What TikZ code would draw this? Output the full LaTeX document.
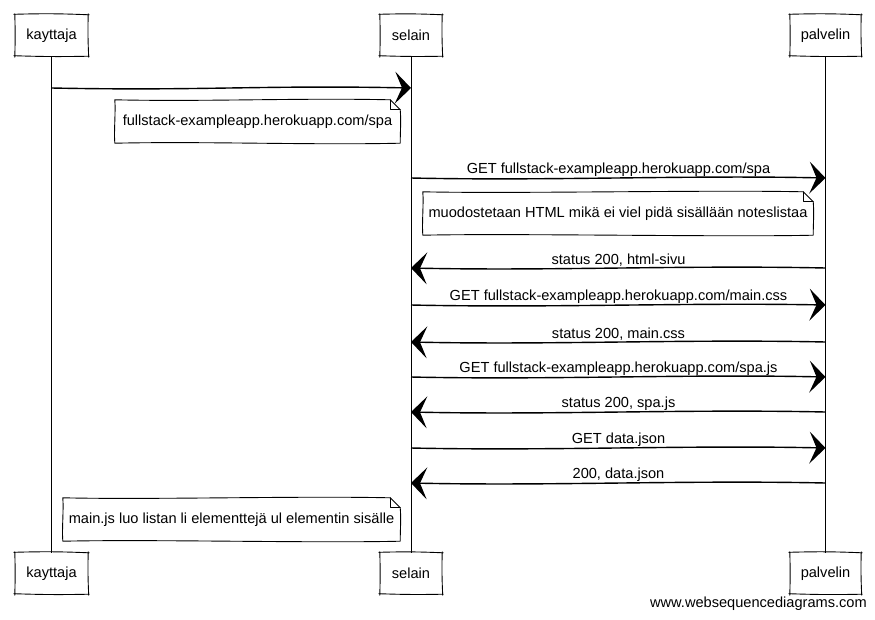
\documentclass[tikz,border=0pt]{standalone}
\usepackage{fontspec}
\setmainfont{Liberation Sans}
\usetikzlibrary{arrows.meta}

% sketchy outline around a participant box
\newcommand\handbox[1]{%
  \draw[frame] ([xshift=-1pt,yshift=0.5pt]#1.north west) to[bend left=2] ([xshift=1pt]#1.north east)
    ([yshift=1pt]#1.north east) to[bend right=2] ([xshift=0.5pt,yshift=-1pt]#1.south east)
    ([xshift=1pt]#1.south east) to[bend left=1.5] ([xshift=-1pt,yshift=0.5pt]#1.south west)
    ([yshift=-1pt]#1.south west) to[bend right=1.5] ([yshift=1pt]#1.north west);}

% note with a folded top-right corner
\newcommand\dognote[1]{%
  \draw[frame, fill=white] (#1.north west)
      .. controls +(90,2) and +(-90,-2) .. ([xshift=-10pt]#1.north east)
      -- ([yshift=-10pt]#1.north east)
      .. controls +(1,10) and +(0,-10) .. (#1.south east)
      .. controls +(-90,2) and +(90,-2) .. (#1.south west)
      .. controls +(-1,-12) and +(1,12) .. cycle;
  \draw[frame] ([xshift=-10pt]#1.north east) -- ([xshift=-10pt,yshift=-10pt]#1.north east)
      -- ([yshift=-10pt]#1.north east);}

\begin{document}
\begin{tikzpicture}[x=1pt,y=-1pt,
  every node/.style={font=\fontsize{14.6}{17}\selectfont},
  actor/.style={minimum height=41pt, inner sep=0pt},
  frame/.style={line width=0.9pt, line cap=round, line join=round},
  life/.style={line width=0.9pt},
  msg/.style={line width=1.4pt, -{Stealth[length=16pt,width=32pt,inset=7pt]}},
  lbl/.style={anchor=south, inner sep=1.5pt},
  notebox/.style={minimum height=43pt, inner sep=0pt},
]
\useasboundingbox (0,0) rectangle (875,619);

% participants, top and bottom
\node[actor, minimum width=73pt] (kt) at (51.5,35.5) {kayttaja};
\node[actor, minimum width=62pt] (st) at (411,35.5) {selain};
\node[actor, minimum width=71pt] (pt) at (825.5,35.5) {palvelin};
\node[actor, minimum width=73pt] (kb) at (51.5,573.5) {kayttaja};
\node[actor, minimum width=62pt] (sb) at (411,573.5) {selain};
\node[actor, minimum width=71pt] (pb) at (825.5,573.5) {palvelin};
\foreach \n in {kt,st,pt,kb,sb,pb} {\handbox{\n}}

% lifelines
\draw[life] (kt.south) -- (kb.north);
\draw[life] (st.south) -- (sb.north);
\draw[life] (pt.south) -- (pb.north);

% notes
\node[notebox, minimum width=285pt] (n1) at (257.5,121.5) {fullstack-exampleapp.herokuapp.com/spa};
\node[notebox, minimum width=390pt] (n2) at (618,213.5) {muodostetaan HTML mikä ei viel pidä sisällään noteslistaa};
\node[notebox, minimum width=337pt] (n3) at (231.5,519.5) {main.js luo listan li elementtejä ul elementin sisälle};
\dognote{n1}
\dognote{n2}
\dognote{n3}
\node[notebox] at (n1) {fullstack-exampleapp.herokuapp.com/spa};
\node[notebox] at (n2) {muodostetaan HTML mikä ei viel pidä sisällään noteslistaa};
\node[notebox] at (n3) {main.js luo listan li elementtejä ul elementin sisälle};

% messages
\coordinate (r1) at (0,88);
\draw[msg] (kt |- r1) .. controls +(150,3) and +(-150,-3) .. (st |- r1);

\node[lbl] (l2) at (618.5,178) {GET fullstack-exampleapp.herokuapp.com/spa};
\draw[msg] (st |- l2.south) .. controls +(140,3) and +(-140,-3) .. (pt |- l2.south);

\node[lbl] (l3) at (618.5,268) {status 200, html-sivu};
\draw[msg] (pt |- l3.south) .. controls +(-140,-3) and +(140,3) .. (st |- l3.south);

\node[lbl] (l4) at (618.5,305) {GET fullstack-exampleapp.herokuapp.com/main.css};
\draw[msg] (st |- l4.south) .. controls +(140,3) and +(-140,-2.5) .. (pt |- l4.south);

\node[lbl] (l5) at (618.5,342) {status 200, main.css};
\draw[msg] (pt |- l5.south) .. controls +(-140,-3) and +(140,3) .. (st |- l5.south);

\node[lbl] (l6) at (618.5,377) {GET fullstack-exampleapp.herokuapp.com/spa.js};
\draw[msg] (st |- l6.south) .. controls +(140,3) and +(-140,-3) .. (pt |- l6.south);

\node[lbl] (l7) at (618.5,412) {status 200, spa.js};
\draw[msg] (pt |- l7.south) .. controls +(-140,-3) and +(140,3) .. (st |- l7.south);

\node[lbl] (l8) at (618.5,448) {GET data.json};
\draw[msg] (st |- l8.south) .. controls +(140,3) and +(-140,-3) .. (pt |- l8.south);

\node[lbl] (l9) at (618.5,483) {200, data.json};
\draw[msg] (pt |- l9.south) .. controls +(-140,-3) and +(140,3) .. (st |- l9.south);

% footer
\node[anchor=east, inner sep=0pt] (wsd) at (867,604) {www.websequencediagrams.com};
\end{tikzpicture}
\end{document}
